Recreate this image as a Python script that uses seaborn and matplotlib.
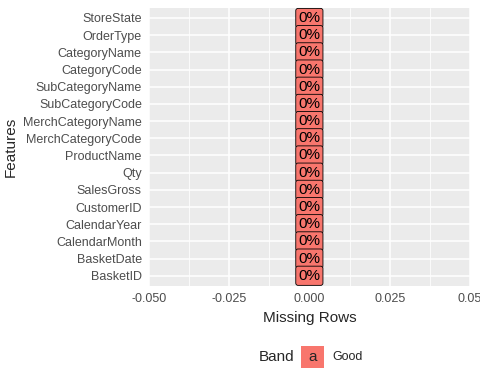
import numpy as np
import pandas as pd
import matplotlib
matplotlib.use("Agg")
import matplotlib.pyplot as plt
import seaborn as sns
from matplotlib.patches import Rectangle
from matplotlib.ticker import MultipleLocator

features = ["StoreState", "OrderType", "CategoryName", "CategoryCode", "SubCategoryName",
            "SubCategoryCode", "MerchCategoryName", "MerchCategoryCode", "ProductName", "Qty",
            "SalesGross", "CustomerID", "CalendarYear", "CalendarMonth", "BasketDate", "BasketID"]
missing_rows = [0] * len(features)
pct_missing = ["0%"] * len(features)
band = ["Good"] * len(features)

df = pd.DataFrame({"Features": features, "Missing": missing_rows,
                   "Label": pct_missing, "Band": band})

sns.set_style("darkgrid", {"axes.facecolor": "#EBEBEB", "grid.color": "white"})
plt.rcParams["font.family"] = ["Liberation Sans", "DejaVu Sans"]

fig = plt.figure(figsize=(4.8, 3.84), dpi=100)
ax = fig.add_axes([0.310, 0.255, 0.669, 0.725])

sns.barplot(data=df, x="Missing", y="Features", color="#F8766D", ax=ax,
            orient="h", edgecolor="black", linewidth=0.5)

for i, row in df.iterrows():
    ax.text(row["Missing"], i, row["Label"], ha="center", va="center", fontsize=11,
            color="black",
            bbox=dict(boxstyle="round,pad=0.17,rounding_size=0.15", fc="#F8766D",
                      ec="black", lw=0.6))

ax.set_xlim(-0.05, 0.05)
ax.set_ylim(len(features) - 0.4, -0.6)
ax.xaxis.set_minor_locator(MultipleLocator(0.0125))
ax.set_xticks([-0.05, -0.025, 0, 0.025, 0.05])
ax.set_xticklabels(["-0.050", "-0.025", "0.000", "0.025", "0.05"])
ax.grid(which="major", color="white", lw=1.1)
ax.grid(which="minor", axis="x", color="white", lw=0.55)
for s in ax.spines.values():
    s.set_visible(False)
ax.tick_params(axis="both", which="major", length=3, width=0.8, color="#333333",
               labelsize=9, labelcolor="#4D4D4D", pad=2)
ax.tick_params(which="minor", length=0)
ax.set_xlabel("Missing Rows", fontsize=11, labelpad=4)
ax.set_ylabel("Features", fontsize=11, labelpad=4)

# legend
fig.text(0.540, 0.070, "Band", fontsize=11, ha="left", va="center")
fig.patches.append(Rectangle((0.627, 0.042), 0.048, 0.057, transform=fig.transFigure,
                             facecolor="#F8766D", edgecolor="none"))
fig.text(0.651, 0.070, "a", fontsize=11, ha="center", va="center")
fig.text(0.692, 0.070, "Good", fontsize=9, ha="left", va="center")

fig.savefig("out.png", dpi=100)
